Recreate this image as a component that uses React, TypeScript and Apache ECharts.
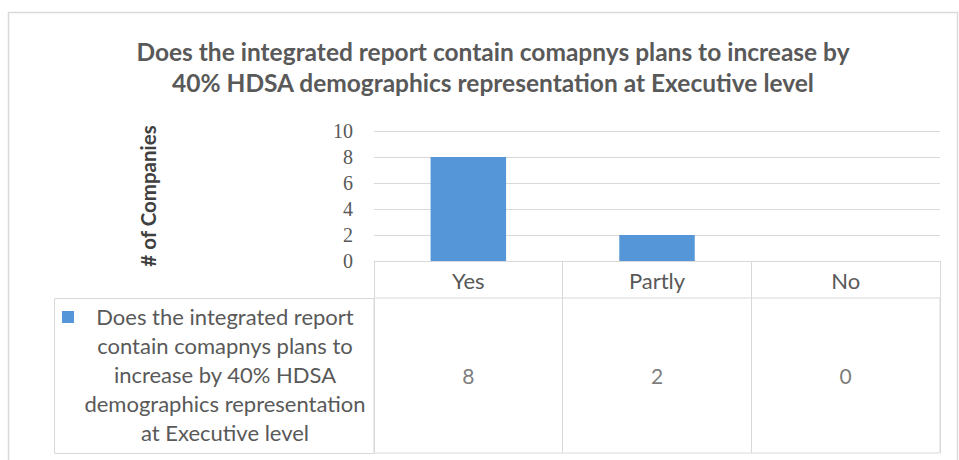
import React, { useEffect, useRef } from "react";
import * as echarts from "echarts";

// Survey answers and company counts
const categories = ["Yes", "Partly", "No"];
const companyCounts = [8, 2, 0];
const seriesName =
  "Does the integrated report contain comapnys plans to increase by 40% HDSA demographics representation at Executive level";
const seriesNameLines = [
  "Does the integrated report",
  "contain comapnys plans to",
  "increase by 40% HDSA",
  "demographics representation",
  "at Executive level",
];
const titleLines = [
  "Does the integrated report contain comapnys plans to increase by",
  "40% HDSA demographics representation at Executive level",
];
const yTicks = { min: 0, max: 10, interval: 2 };

const SANS = "Lato, 'Open Sans', sans-serif";
const SERIF = "'Liberation Serif', 'DejaVu Serif', serif";
const TEXT = "#595959";
const GRID_LINE = "#D9D9D9";
const BAR = "#5496D8";

export default function App() {
  const ref = useRef<HTMLDivElement>(null);

  useEffect(() => {
    if (!ref.current) return;
    const chart = echarts.init(ref.current, undefined, { renderer: "svg" });

    chart.setOption({
      animation: false,
      backgroundColor: "#ffffff",
      title: {
        text: titleLines.join("\n"),
        left: 488,
        top: 31,
        textAlign: "center",
        textStyle: {
          fontFamily: SANS,
          fontSize: 24.5,
          fontWeight: "bold",
          color: TEXT,
          lineHeight: 31,
        },
      },
      grid: [
        { left: 374, top: 131, width: 566, height: 130 },
        {
          left: 374,
          top: 298,
          width: 566,
          height: 155,
          show: true,
          borderColor: GRID_LINE,
          borderWidth: 1,
        },
      ],
      xAxis: [
        {
          type: "category",
          gridIndex: 0,
          data: categories,
          axisLine: { lineStyle: { color: GRID_LINE } },
          axisTick: { show: true, length: 37, lineStyle: { color: GRID_LINE } },
          axisLabel: { fontFamily: SANS, fontSize: 22, color: TEXT, margin: 8 },
        },
        {
          type: "category",
          gridIndex: 1,
          data: categories,
          axisLine: { show: false },
          axisTick: { show: false },
          axisLabel: { show: false },
          splitLine: { show: true, lineStyle: { color: GRID_LINE } },
        },
      ],
      yAxis: [
        {
          type: "value",
          gridIndex: 0,
          min: yTicks.min,
          max: yTicks.max,
          interval: yTicks.interval,
          name: "# of Companies",
          nameLocation: "middle",
          nameGap: 216,
          nameTextStyle: {
            fontFamily: SANS,
            fontSize: 20.5,
            fontWeight: "bold",
            color: "#404040",
          },
          axisLine: { show: false },
          axisTick: { show: false },
          axisLabel: { fontFamily: SERIF, fontSize: 20, color: TEXT, margin: 21 },
          splitLine: { lineStyle: { color: GRID_LINE } },
        },
        { type: "value", gridIndex: 1, min: 0, max: 1, show: false },
      ],
      series: [
        {
          name: seriesName,
          type: "bar",
          xAxisIndex: 0,
          yAxisIndex: 0,
          data: companyCounts,
          barWidth: "40%",
          itemStyle: { color: BAR },
        },
        {
          // data table row: the value of each category
          type: "scatter",
          xAxisIndex: 1,
          yAxisIndex: 1,
          data: categories.map((c) => [c, 0.5]),
          symbolSize: 1,
          itemStyle: { color: "transparent" },
          silent: true,
          label: {
            show: true,
            position: "inside",
            formatter: (p: any) => String(companyCounts[p.dataIndex]),
            fontFamily: SANS,
            fontSize: 21,
            color: TEXT,
          },
        },
      ],
      graphic: [
        {
          type: "rect",
          shape: { x: 8.5, y: 12.5, width: 949, height: 460 },
          style: { fill: "none", stroke: GRID_LINE, lineWidth: 1.5 },
          silent: true,
        },
        {
          type: "polyline",
          shape: {
            points: [
              [374, 298.5],
              [54.5, 298.5],
              [54.5, 453.5],
              [374, 453.5],
            ],
          },
          style: { fill: "none", stroke: GRID_LINE, lineWidth: 1 },
          silent: true,
        },
        {
          type: "rect",
          shape: { x: 62, y: 311, width: 12, height: 12 },
          style: { fill: BAR },
          silent: true,
        },
        {
          type: "text",
          x: 225,
          y: 301.5,
          style: {
            text: seriesNameLines.join("\n"),
            fontFamily: SANS,
            fontSize: 22,
            lineHeight: 29,
            fill: TEXT,
            align: "center",
            verticalAlign: "top",
          },
          silent: true,
        },
      ],
    });

    return () => chart.dispose();
  }, []);

  return (
    <div
      ref={ref}
      style={{ position: "fixed", left: 0, top: 0, width: 959, height: 460 }}
    />
  );
}
